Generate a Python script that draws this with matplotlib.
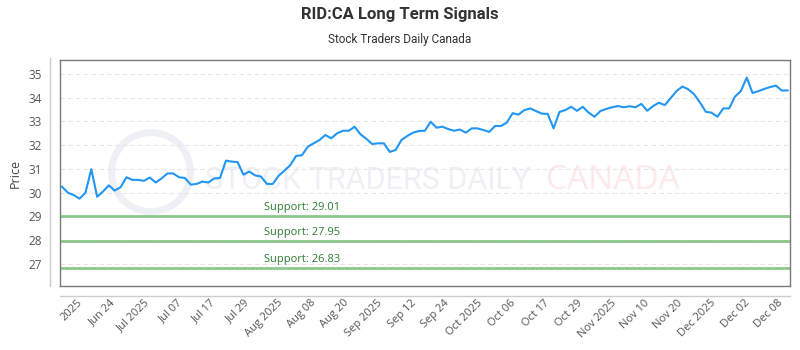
import numpy as np
import matplotlib
matplotlib.use("Agg")
import matplotlib.pyplot as plt
from matplotlib.lines import Line2D
from matplotlib.patches import Ellipse

prices = [30.25, 30.0, 29.9, 29.75, 30.0, 30.99, 29.83, 30.05, 30.31, 30.09,
          30.23, 30.65, 30.54, 30.54, 30.5, 30.64, 30.43, 30.6, 30.81, 30.81,
          30.65, 30.62, 30.34, 30.37, 30.47, 30.43, 30.6, 30.62, 31.35, 31.31,
          31.29, 30.76, 30.89, 30.73, 30.68, 30.37, 30.37, 30.71, 30.93, 31.16,
          31.55, 31.58, 31.94, 32.08, 32.22, 32.43, 32.29, 32.5, 32.61, 32.61,
          32.78, 32.46, 32.27, 32.05, 32.08, 32.08, 31.72, 31.8, 32.22, 32.39,
          32.53, 32.6, 32.61, 32.99, 32.74, 32.78, 32.68, 32.61, 32.66, 32.53,
          32.71, 32.71, 32.64, 32.56, 32.81, 32.81, 32.95, 33.35, 33.29, 33.48,
          33.55, 33.44, 33.33, 33.32, 32.71, 33.4, 33.48, 33.62, 33.45, 33.62,
          33.37, 33.2, 33.44, 33.53, 33.6, 33.65, 33.6, 33.64, 33.6, 33.74,
          33.45, 33.65, 33.79, 33.69, 33.98, 34.28, 34.47, 34.36, 34.15, 33.81,
          33.41, 33.37, 33.2, 33.55, 33.55, 34.05, 34.28, 34.85, 34.2, 34.28,
          34.37, 34.45, 34.51, 34.3, 34.31]

tick_labels = ["2025", "Jun 24", "Jul 2025", "Jul 07", "Jul 17", "Jul 29",
               "Aug 2025", "Aug 08", "Aug 20", "Sep 2025", "Sep 12", "Sep 24",
               "Oct 2025", "Oct 06", "Oct 17", "Oct 29", "Nov 2025", "Nov 10",
               "Nov 20", "Dec 2025", "Dec 02", "Dec 08"]

support_levels = [29.01, 27.95, 26.83]
support_labels = ["Support: 29.01", "Support: 27.95", "Support: 26.83"]

y_ticks = [27, 28, 29, 30, 31, 32, 33, 34, 35]

narrow = ['Roboto', 'DejaVu Sans']
tickfont = ['Open Sans', 'DejaVu Sans']

fig = plt.figure(figsize=(8, 3.5), dpi=100)
ax = fig.add_axes([60/800, 1-286/350, 730/800, 226/350])

x = np.arange(len(prices))

# watermark
ax.add_patch(Ellipse((0.1247, 0.504), width=0.108, height=0.35,
                     transform=ax.transAxes, fill=False, lw=5,
                     ec='#eef0f6', zorder=0))
ax.text(0.198, 0.465, "STOCK TRADERS DAILY", fontsize=22, color='#eef0f6',
        family=narrow, va='center', ha='left', transform=ax.transAxes, zorder=0)
ax.text(0.666, 0.465, "CANADA", fontsize=24, color='#fdeaea',
        family=tickfont, va='center', ha='left', transform=ax.transAxes, zorder=0)

ax.plot(x, prices, color='#2196F3', lw=1.5, zorder=3)

for lvl, lab in zip(support_levels, support_labels):
    ax.axhline(lvl, color='#8cc88c', lw=2, zorder=2)
    ax.text(34.5, lvl + 0.13, lab, fontsize=8, color='#2e7d32',
            family=tickfont, va='bottom', ha='left', zorder=4)

ax.set_xlim(-0.35, 124.4)
ax.set_ylim(26.07, 35.59)
ax.set_yticks(y_ticks)
ax.set_yticklabels([str(v) for v in y_ticks], family=tickfont, fontsize=8.5,
                   color='#555555')
ax.yaxis.grid(True, ls=(0, (4, 3)), color='#e6e6e6', lw=0.8)
ax.set_axisbelow(True)

tick_pos = np.linspace(3.2, 122.9, len(tick_labels))
ax.set_xticks(tick_pos)
ax.set_xticklabels(tick_labels, rotation=45, ha='right', va='center',
                   rotation_mode='anchor', family=tickfont, fontsize=8,
                   color='#555555')
ax.tick_params(axis='x', length=0, pad=11)
ax.tick_params(axis='y', length=0, pad=13)

for s in ax.spines.values():
    s.set_color('#7a7a7a')
    s.set_linewidth(1)

ax.set_ylabel("Price", family=tickfont, fontsize=9, color='#444444', labelpad=5)

# outer axis lines
fig.add_artist(Line2D([50/800, 50/800], [1-58/350, 1-286/350], color='#cccccc', lw=1))
fig.add_artist(Line2D([60/800, 790/800], [1-296/350, 1-296/350], color='#cccccc', lw=1))

fig.text(0.5, 1-15/350, "RID:CA Long Term Signals", ha='center', va='center',
         fontsize=12, fontweight='bold', color='#333333', family=narrow)
fig.text(0.5, 1-40/350, "Stock Traders Daily Canada", ha='center', va='center',
         fontsize=8.5, color='#333333', family=narrow)

fig.savefig("out.png", dpi=100)
